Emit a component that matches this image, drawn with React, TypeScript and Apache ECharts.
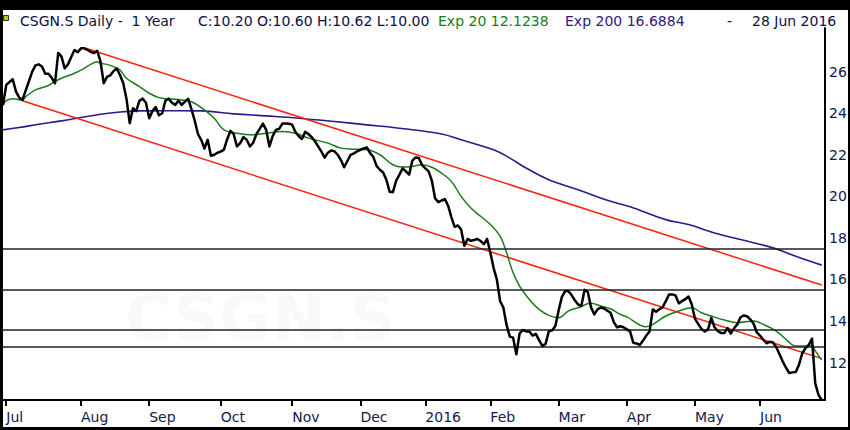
import React, { useEffect, useRef } from "react";
import * as echarts from "echarts";

// ---- calendar (SIX trading days) ----
const FIRST_DAY = "2015-06-30";
const LAST_DAY = "2016-06-28";
const HOLIDAYS = ["2015-12-24", "2015-12-25", "2015-12-31", "2016-01-01", "2016-03-25", "2016-03-28", "2016-05-05", "2016-05-16"];
const MONTH_NAMES = ["Jan", "Feb", "Mar", "Apr", "May", "Jun", "Jul", "Aug", "Sep", "Oct", "Nov", "Dec"];

function buildTradingDays(): string[] {
  const out: string[] = [];
  const d = new Date(FIRST_DAY + "T00:00:00Z");
  const end = new Date(LAST_DAY + "T00:00:00Z");
  while (d.getTime() <= end.getTime()) {
    const wd = d.getUTCDay();
    const s = d.toISOString().slice(0, 10);
    if (wd !== 0 && wd !== 6 && HOLIDAYS.indexOf(s) < 0) out.push(s);
    d.setUTCDate(d.getUTCDate() + 1);
  }
  return out;
}
const TRADING_DAYS = buildTradingDays();
const CATEGORIES = [...TRADING_DAYS, ""];

// ---- daily closes ----
const CLOSE = [
  24.4, 25.36, 25.5, 25.63, 25.04, 24.75, 24.64, 25.1, 25.55, 26.0,
  26.3, 26.35, 26.25, 25.9, 25.9, 25.7, 25.44, 26.9, 26.72, 26.16,
  26.35, 26.7, 27.04, 26.93, 27.12, 27.12, 27.05, 26.95, 26.9, 27.0,
  26.5, 25.44, 25.75, 25.82, 26.02, 26.16, 25.84, 25.45, 24.7, 23.52,
  24.24, 24.1, 24.6, 24.7, 24.5, 23.76, 24.1, 24.3, 23.9, 24.0,
  24.6, 24.7, 24.5, 24.4, 24.6, 24.4, 24.56, 24.69, 24.2, 23.65,
  23.0, 22.72, 22.3, 22.72, 21.95, 22.0, 22.1, 22.15, 22.25, 22.75,
  23.15, 23.0, 22.4, 22.56, 22.85, 22.72, 22.4, 22.58, 23.0, 23.25,
  23.5, 23.2, 22.4, 22.9, 23.2, 23.25, 23.5, 23.5, 23.49, 23.45,
  23.1, 22.9, 22.76, 23.1, 23.0, 22.85, 22.65, 22.4, 22.15, 21.86,
  22.1, 22.21, 22.17, 22.0, 21.75, 21.4, 21.7, 22.0, 22.07, 22.16,
  22.24, 22.3, 22.35, 22.08, 21.89, 21.45, 21.28, 21.15, 20.8, 20.22,
  20.2, 20.75, 21.04, 21.35, 21.2, 21.04, 21.72, 21.87, 21.85, 21.5,
  21.35, 21.2, 20.75, 19.9, 19.72, 19.8, 19.87, 19.55, 19.0, 18.53,
  18.6, 18.4, 17.62, 17.95, 17.86, 17.9, 17.95, 17.85, 17.7, 17.95,
  17.3, 16.55, 16.0, 14.96, 14.65, 13.8, 13.25, 13.2, 12.4, 13.4,
  13.57, 13.5, 13.5, 13.3, 13.38, 13.08, 12.8, 12.9, 13.5, 13.55,
  13.76, 14.5, 15.15, 15.44, 15.44, 15.25, 15.0, 14.8, 14.72, 15.5,
  15.4, 14.65, 14.32, 14.56, 14.65, 14.6, 14.5, 14.4, 13.95, 13.7,
  13.75, 13.7, 13.6, 13.5, 12.95, 12.92, 12.85, 13.06, 13.3, 13.5,
  14.56, 14.45, 14.57, 14.66, 14.96, 15.28, 15.28, 15.23, 14.85, 14.96,
  15.05, 15.18, 14.8, 14.1, 13.85, 13.62, 13.5, 13.6, 14.15, 13.7,
  13.52, 13.42, 13.42, 13.66, 13.4, 13.65, 13.84, 14.18, 14.27, 14.23,
  14.08, 13.88, 13.45, 13.3, 13.1, 12.93, 13.0, 12.97, 12.74, 12.4,
  12.05, 11.75, 11.5, 11.53, 11.55, 11.9, 12.45, 12.7, 12.85, 13.15,
  11.0, 10.45, 10.2,
];

// ---- Exp 20 (green), sampled at trading-day indices ----
const EMA20_DAYS = [0, 1, 3, 6, 7, 10, 14, 15, 18, 22, 25, 27, 29, 30, 32, 34, 36, 38, 42, 45, 48, 51, 55, 58, 61, 65, 68, 72, 77, 81, 86, 90, 94, 100, 104, 108, 112, 116, 120, 123, 126, 129, 132, 135, 138, 141, 144, 147, 150, 153, 155, 157, 159, 162, 165, 168, 171, 174, 177, 181, 184, 187, 190, 192, 198, 200, 204, 208, 212, 215, 218, 222, 226, 231, 234, 238, 241, 244, 247, 249, 250, 252];
const EMA20_VALUES = [24.37, 24.6, 24.69, 24.64, 24.8, 25.12, 25.33, 25.44, 25.68, 25.92, 26.16, 26.35, 26.48, 26.4, 26.35, 26.24, 26.08, 25.68, 25.28, 24.96, 24.75, 24.69, 24.64, 24.55, 24.27, 23.76, 23.2, 23.04, 22.96, 23.04, 23.12, 23.04, 22.8, 22.56, 22.32, 22.27, 22.24, 22.0, 21.52, 21.41, 21.44, 21.52, 21.4, 21.12, 20.72, 20.0, 19.44, 19.04, 18.64, 18.08, 17.28, 16.32, 15.68, 15.04, 14.56, 14.27, 14.16, 14.48, 14.64, 14.85, 14.72, 14.59, 14.32, 14.2, 13.73, 13.84, 14.24, 14.48, 14.64, 14.4, 14.24, 14.05, 13.92, 14.0, 13.84, 13.52, 13.12, 12.8, 12.8, 12.83, 12.56, 12.12];

// ---- Exp 200 (navy) ----
const EMA200_DAYS = [0, 5, 11, 18, 24, 30, 36, 42, 48, 54, 61, 71, 81, 91, 102, 112, 122, 135, 141, 151, 156, 161, 168, 177, 187, 193, 204, 211, 219, 227, 237, 244, 252];
const EMA200_VALUES = [23.2, 23.31, 23.47, 23.63, 23.79, 23.95, 24.06, 24.11, 24.12, 24.12, 24.11, 23.97, 23.87, 23.76, 23.6, 23.44, 23.28, 23.0, 22.72, 22.24, 21.84, 21.36, 20.8, 20.32, 19.76, 19.5, 18.88, 18.64, 18.24, 17.92, 17.52, 17.12, 16.69];

// ---- drawn trend channel and horizontal levels ----
const UPPER_DAYS = [25, 252];
const UPPER_VALUES = [27.15, 15.73];
const LOWER_DAYS = [6, 252];
const LOWER_VALUES = [24.6, 12.19];
const LEVELS = [17.47, 15.49, 13.6, 12.77];
const Y_LABELS = [12, 14, 16, 18, 20, 22, 24, 26];

const FONT = '"DejaVu Sans", Verdana, sans-serif';
const NAVY_TEXT = "#14184a";

function pairs(days: number[], values: number[]) {
  return days.map((d, i) => [d, values[i]]);
}

function isMonthStart(i: number): boolean {
  if (i <= 0 || !CATEGORIES[i]) return false;
  return CATEGORIES[i].slice(0, 7) !== CATEGORIES[i - 1].slice(0, 7);
}

function monthLabel(v: string): string {
  if (!v) return "";
  const m = parseInt(v.slice(5, 7), 10);
  return m === 1 ? v.slice(0, 4) : MONTH_NAMES[m - 1];
}

export default function App() {
  const ref = useRef<HTMLDivElement>(null);

  useEffect(() => {
    if (!ref.current) return;
    const chart = echarts.init(ref.current, undefined, { renderer: "svg" });
    const headerFont = `14px ${FONT}`;
    const option: any = {
      animation: false,
      backgroundColor: "#ffffff",
      textStyle: { fontFamily: FONT },
      grid: { left: 3, right: 25, top: 28, bottom: 30 },
      xAxis: {
        type: "category",
        data: CATEGORIES,
        boundaryGap: false,
        axisLine: { show: true, lineStyle: { color: "#000", width: 2 } },
        axisTick: {
          show: true,
          interval: (i: number) => isMonthStart(i),
          length: 6,
          lineStyle: { color: "#000", width: 2 },
        },
        axisLabel: {
          interval: (i: number) => isMonthStart(i),
          formatter: (v: string) => monthLabel(v),
          align: "left",
          margin: 10,
          color: NAVY_TEXT,
          fontSize: 14,
          fontFamily: FONT,
        },
        splitLine: { show: false },
      },
      yAxis: {
        type: "value",
        position: "right",
        min: 10.2,
        max: 28.1,
        axisLine: { show: true, lineStyle: { color: "#000", width: 2 } },
        axisTick: { show: false },
        splitLine: { show: false },
        axisLabel: {
          customValues: Y_LABELS,
          color: NAVY_TEXT,
          fontSize: 14,
          margin: 4,
          fontFamily: FONT,
        },
      },
      graphic: [
        { type: "text", x: 125, y: 318, z: -10, silent: true, style: { text: "CSGN.S", fill: "#f9f9f9", font: `bold 64px ${FONT}`, verticalAlign: "middle" } },
        { type: "rect", shape: { x: 0, y: 0, width: 850, height: 10 }, style: { fill: "#000" }, z: 100 },
        { type: "rect", shape: { x: 0, y: 0, width: 3, height: 430 }, style: { fill: "#000" }, z: 100 },
        { type: "rect", shape: { x: 848, y: 0, width: 2, height: 430 }, style: { fill: "#000" }, z: 100 },
        { type: "rect", shape: { x: 0, y: 427, width: 850, height: 3 }, style: { fill: "#000" }, z: 100 },
        { type: "rect", shape: { x: 3.5, y: 15.5, width: 5, height: 5 }, style: { fill: "#c9bd1e", stroke: "#333", lineWidth: 1 }, z: 100 },
        { type: "text", x: 20, y: 21, z: 100, style: { text: "CSGN.S Daily -  1 Year", fill: "#0c1040", font: headerFont, verticalAlign: "middle" } },
        { type: "text", x: 198, y: 21, z: 100, style: { text: "C:10.20 O:10.60 H:10.62 L:10.00", fill: "#0c1040", font: headerFont, verticalAlign: "middle" } },
        { type: "text", x: 438, y: 21, z: 100, style: { text: "Exp 20 12.1238", fill: "#1a7a1a", font: headerFont, verticalAlign: "middle" } },
        { type: "text", x: 565, y: 21, z: 100, style: { text: "Exp 200 16.6884", fill: "#2c1a7a", font: headerFont, verticalAlign: "middle" } },
        { type: "text", x: 727, y: 21, z: 100, style: { text: "-", fill: "#0c1040", font: headerFont, verticalAlign: "middle" } },
        { type: "text", x: 752, y: 21, z: 100, style: { text: "28 Jun 2016", fill: "#0c1040", font: headerFont, verticalAlign: "middle" } },
      ],
      series: [
        {
          name: "Exp 200",
          type: "line",
          data: pairs(EMA200_DAYS, EMA200_VALUES),
          smooth: 0.4,
          showSymbol: false,
          symbol: "none",
          z: 2,
          lineStyle: { color: "#2c1a8a", width: 1.6 },
          markLine: {
            silent: true,
            symbol: "none",
            label: { show: false },
            lineStyle: { color: "#1a2626", width: 1.5, type: "solid" },
            data: LEVELS.map((v) => ({ yAxis: v })),
          },
        },
        {
          name: "Upper",
          type: "line",
          data: pairs(UPPER_DAYS, UPPER_VALUES),
          symbol: "none",
          z: 3,
          lineStyle: { color: "#ff2010", width: 1.5 },
        },
        {
          name: "Lower",
          type: "line",
          data: pairs(LOWER_DAYS, LOWER_VALUES),
          symbol: "none",
          z: 3,
          lineStyle: { color: "#ff2010", width: 1.5 },
        },
        {
          name: "Exp 20",
          type: "line",
          data: pairs(EMA20_DAYS, EMA20_VALUES),
          smooth: 0.4,
          symbol: "none",
          z: 4,
          lineStyle: { color: "#1b7a1b", width: 1.5 },
        },
        {
          name: "CSGN.S",
          type: "line",
          data: CLOSE,
          symbol: "none",
          z: 5,
          lineStyle: { color: "#000", width: 2.5, join: "round" },
        },
      ],
    };
    chart.setOption(option);
    return () => chart.dispose();
  }, []);

  return (
    <div
      ref={ref}
      style={{ position: "absolute", left: 0, top: 0, width: 850, height: 430 }}
    />
  );
}
